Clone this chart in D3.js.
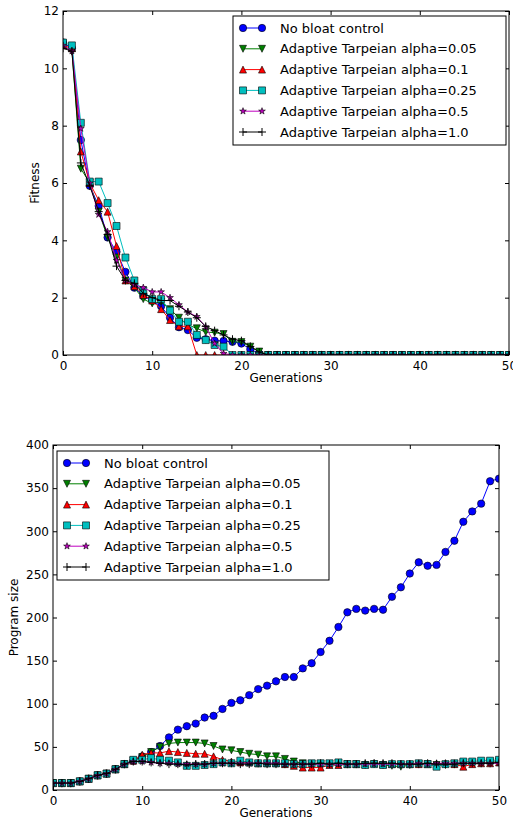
<!DOCTYPE html>
<html>
<head>
<meta charset="utf-8">
<script src="https://cdn.jsdelivr.net/npm/d3@7"></script>
<style>
body{margin:0;background:#fff;}
svg{display:block;font-family:"DejaVu Sans",sans-serif;}
</style>
</head>
<body>
<div id="chart"></div>
<script>
// generations 0..50
var generations=[0,1,2,3,4,5,6,7,8,9,10,11,12,13,14,15,16,17,18,19,20,21,22,23,24,25,
	26,27,28,29,30,31,32,33,34,35,36,37,38,39,40,41,42,43,44,45,46,47,48,49,50];
var seriesNames=["No bloat control","Adaptive Tarpeian alpha=0.05","Adaptive Tarpeian alpha=0.1",
	"Adaptive Tarpeian alpha=0.25","Adaptive Tarpeian alpha=0.5","Adaptive Tarpeian alpha=1.0"];

// fitness (top panel)
var fitNoBloat=[10.9,10.7,7.5,5.9,5.2,4.1,3.6,2.9,2.35,2.05,
	1.9,1.7,1.3,0.97,0.87,0.6,0.55,0.5,0.49,0.46,
	0.4,0.2,0.05,0,0,0,0,0,0,0,
	0,0,0,0,0,0,0,0,0,0,
	0,0,0,0,0,0,0,0,0,0,0];
var fitA005=[10.8,10.6,6.5,6.0,5.0,4.1,3.4,2.6,2.35,1.95,
	1.8,1.85,1.6,1.3,1.05,0.93,0.8,0.78,0.73,0.46,
	0.45,0.29,0.12,0,0,0,0,0,0,0,
	0,0,0,0,0,0,0,0,0,0,
	0,0,0,0,0,0,0,0,0,0,0];
var fitA01=[10.8,10.7,7.1,6.0,5.4,5.0,3.8,2.6,2.4,2.1,
	1.9,1.6,1.22,1.0,1.0,0,0,0,0,0,
	0,0,0,0,0,0,0,0,0,0,
	0,0,0,0,0,0,0,0,0,0,
	0,0,0,0,0,0,0,0,0,0,0];
var fitA025=[10.9,10.8,8.1,6.05,6.05,5.3,4.5,3.4,2.6,2.25,
	1.95,1.95,1.55,1.16,1.16,0.7,0.52,0.35,0.29,0,
	0,0,0,0,0,0,0,0,0,0,
	0,0,0,0,0,0,0,0,0,0,
	0,0,0,0,0,0,0,0,0,0,0];
var fitA05=[10.8,10.6,7.9,6.0,4.9,4.3,3.3,2.6,2.45,2.35,
	2.2,2.2,2.0,1.75,1.5,1.34,0.98,0.4,0.05,0,
	0,0,0,0,0,0,0,0,0,0,
	0,0,0,0,0,0,0,0,0,0,
	0,0,0,0,0,0,0,0,0,0,0];
var fitA10=[10.7,10.6,6.7,5.9,5.0,4.2,3.1,2.6,2.5,2.15,
	2.0,1.9,1.9,1.7,1.5,1.3,1.0,0.85,0.7,0.55,
	0.5,0.3,0.1,0,0,0,0,0,0,0,
	0,0,0,0,0,0,0,0,0,0,
	0,0,0,0,0,0,0,0,0,0,0];

// program size (bottom panel)
var sizeNoBloat=[8,8,8,10,13,17,19,24,30,34,
	39,44,51,61,70,74,77,84,86,94,
	101,104,110,117,121,126,131,131,141,147,
	160,173,189,206,210,208,210,209,224,235,
	251,264,260,261,276,289,311,323,332,358,361];
var sizeA005=[8,8,8,10,13,17,19,24,30,34,
	38,44,50,54,55,55,55,54,51,47,
	46,44,42,41,39,39,36,33,31,30,
	30,30,31,30,30,29,30,29,28,27,
	29,30,30,29,29,30,31,31,31,32,33];
var sizeA01=[8,8,8,10,13,17,19,24,30,34,
	41,43,43,45,44,43,42,42,39,35,
	33,32,32,31,31,31,30,28,26,26,
	26,29,29,30,30,30,31,30,30,30,
	30,30,30,30,31,30,27,30,31,31,32];
var sizeA025=[8,8,8,10,13,17,19,24,30,35,
	35,37,35,34,32,28,28,29,30,32,
	31,34,32,31,31,31,31,30,30,31,
	31,31,32,30,30,29,30,29,30,30,
	30,31,30,27,30,31,33,33,34,34,35];
var sizeA05=[8,8,8,10,13,17,19,24,30,33,
	33,32,31,31,30,30,30,30,31,31,
	31,31,31,31,31,31,30,30,30,30,
	30,30,30,30,30,30,30,30,30,30,
	30,31,30,31,31,31,31,31,31,31,31];
var sizeA10=[8,8,8,10,13,17,19,24,30,33,
	33,32,31,30,30,29,30,30,31,31,
	31,30,30,31,30,30,30,30,30,30,
	31,30,31,30,30,31,31,31,31,30,
	30,30,31,30,30,30,31,31,31,31,32];

var xTicks=[0,10,20,30,40,50];
var fitTicks=[0,2,4,6,8,10,12];
var sizeTicks=[0,50,100,150,200,250,300,350,400];

var colors=["#0000ff","#008000","#ff0000","#00bfbf","#bf00bf","#000000"];
var markers=["circle","tridown","triup","square","star","plus"];

var width=513, height=821;
var svg=d3.select("#chart").append("svg").attr("width",width).attr("height",height);

// marker path, centred on 0,0
var markerPath=function(type){
	var h=3.5;
	if(type=="circle") return d3.symbol(d3.symbolCircle,Math.PI*3.7*3.7)();
	if(type=="triup") return "M0,"+(-h)+"L"+(-h)+","+h+"L"+h+","+h+"Z";
	if(type=="tridown") return "M0,"+h+"L"+(-h)+","+(-h)+"L"+h+","+(-h)+"Z";
	if(type=="square") return "M"+(-h)+","+(-h)+"H"+h+"V"+h+"H"+(-h)+"Z";
	if(type=="star") return d3.symbol(d3.symbolStar,14)();
	return "M-4,0H4M0,-4V4";
};
var drawMarker=function(g,i,x,y){
	var p=g.append("path").attr("d",markerPath(markers[i]))
		.attr("transform","translate("+x+","+y+")");
	if(markers[i]=="plus"){
		p.attr("fill","none").attr("stroke",colors[i]).attr("stroke-width",1);
	}else{
		p.attr("fill",colors[i]).attr("stroke","#000").attr("stroke-width",0.6);
	}
};

var panel=function(opt){
	var x=d3.scaleLinear().domain([0,50]).range([opt.left,opt.right]);
	var y=d3.scaleLinear().domain(opt.yDomain).range([opt.bottom,opt.top]);
	var g=svg.append("g");
	var clipId="clip"+opt.id;
	g.append("clipPath").attr("id",clipId).append("rect")
		.attr("x",opt.left).attr("y",opt.top)
		.attr("width",opt.right-opt.left).attr("height",opt.bottom-opt.top);
	var plot=g.append("g").attr("clip-path","url(#"+clipId+")");
	var line=d3.line().x(function(d,k){return x(generations[k]);}).y(function(d){return y(d);});
	opt.series.forEach(function(vals,i){
		var s=plot.append("g");
		s.append("path").attr("d",line(vals)).attr("fill","none")
			.attr("stroke",colors[i]).attr("stroke-width",1);
		vals.forEach(function(v,k){drawMarker(s,i,x(generations[k]),y(v));});
	});

	// axes, ticks pointing inward on every side
	var fs="12px";
	g.append("g").attr("transform","translate(0,"+opt.bottom+")")
		.call(d3.axisBottom(x).tickValues(xTicks).tickSizeInner(-4).tickSizeOuter(0).tickPadding(6));
	g.append("g").attr("transform","translate(0,"+opt.top+")")
		.call(d3.axisTop(x).tickValues(xTicks).tickSizeInner(-4).tickSizeOuter(0).tickFormat(""));
	g.append("g").attr("transform","translate("+opt.left+",0)")
		.call(d3.axisLeft(y).tickValues(opt.yTicks).tickSizeInner(-4).tickSizeOuter(0).tickPadding(4));
	g.append("g").attr("transform","translate("+opt.right+",0)")
		.call(d3.axisRight(y).tickValues(opt.yTicks).tickSizeInner(-4).tickSizeOuter(0).tickFormat(""));
	g.selectAll(".domain").remove();
	g.selectAll(".tick line").attr("stroke","#000");
	g.selectAll(".tick text").attr("font-size",fs).attr("font-family","DejaVu Sans").attr("fill","#000");
	g.append("rect").attr("x",opt.left).attr("y",opt.top)
		.attr("width",opt.right-opt.left).attr("height",opt.bottom-opt.top)
		.attr("fill","none").attr("stroke","#000").attr("stroke-width",1);

	g.append("text").attr("x",(opt.left+opt.right)/2).attr("y",opt.bottom+27)
		.attr("text-anchor","middle").attr("font-size",fs).text("Generations");
	g.append("text").attr("transform","translate("+opt.ylabX+","+((opt.top+opt.bottom)/2)+") rotate(-90)")
		.attr("text-anchor","middle").attr("font-size",fs).text(opt.ylabel);

	// legend
	var lg=g.append("g");
	lg.append("rect").attr("x",opt.legX).attr("y",opt.legY)
		.attr("width",opt.legW).attr("height",129)
		.attr("fill","#fff").attr("stroke","#000").attr("stroke-width",1);
	seriesNames.forEach(function(name,i){
		var cy=opt.legY+12+i*20.8;
		var x0=opt.legX+10, x1=opt.legX+29;
		lg.append("line").attr("x1",x0).attr("x2",x1).attr("y1",cy).attr("y2",cy)
			.attr("stroke",colors[i]).attr("stroke-width",1);
		drawMarker(lg,i,x0,cy);
		drawMarker(lg,i,x1,cy);
		lg.append("text").attr("x",opt.legX+47).attr("y",cy).attr("dy","0.36em")
			.attr("font-size","13px").text(name);
	});
};

panel({id:1,left:63,right:509,top:11,bottom:355,yDomain:[0,12],yTicks:fitTicks,
	series:[fitNoBloat,fitA005,fitA01,fitA025,fitA05,fitA10],
	ylabel:"Fitness",ylabX:39,legX:233,legY:16,legW:273});
panel({id:2,left:53,right:499,top:445,bottom:790,yDomain:[0,400],yTicks:sizeTicks,
	series:[sizeNoBloat,sizeA005,sizeA01,sizeA025,sizeA05,sizeA10],
	ylabel:"Program size",ylabX:18,legX:57,legY:451,legW:272});
</script>
</body>
</html>
